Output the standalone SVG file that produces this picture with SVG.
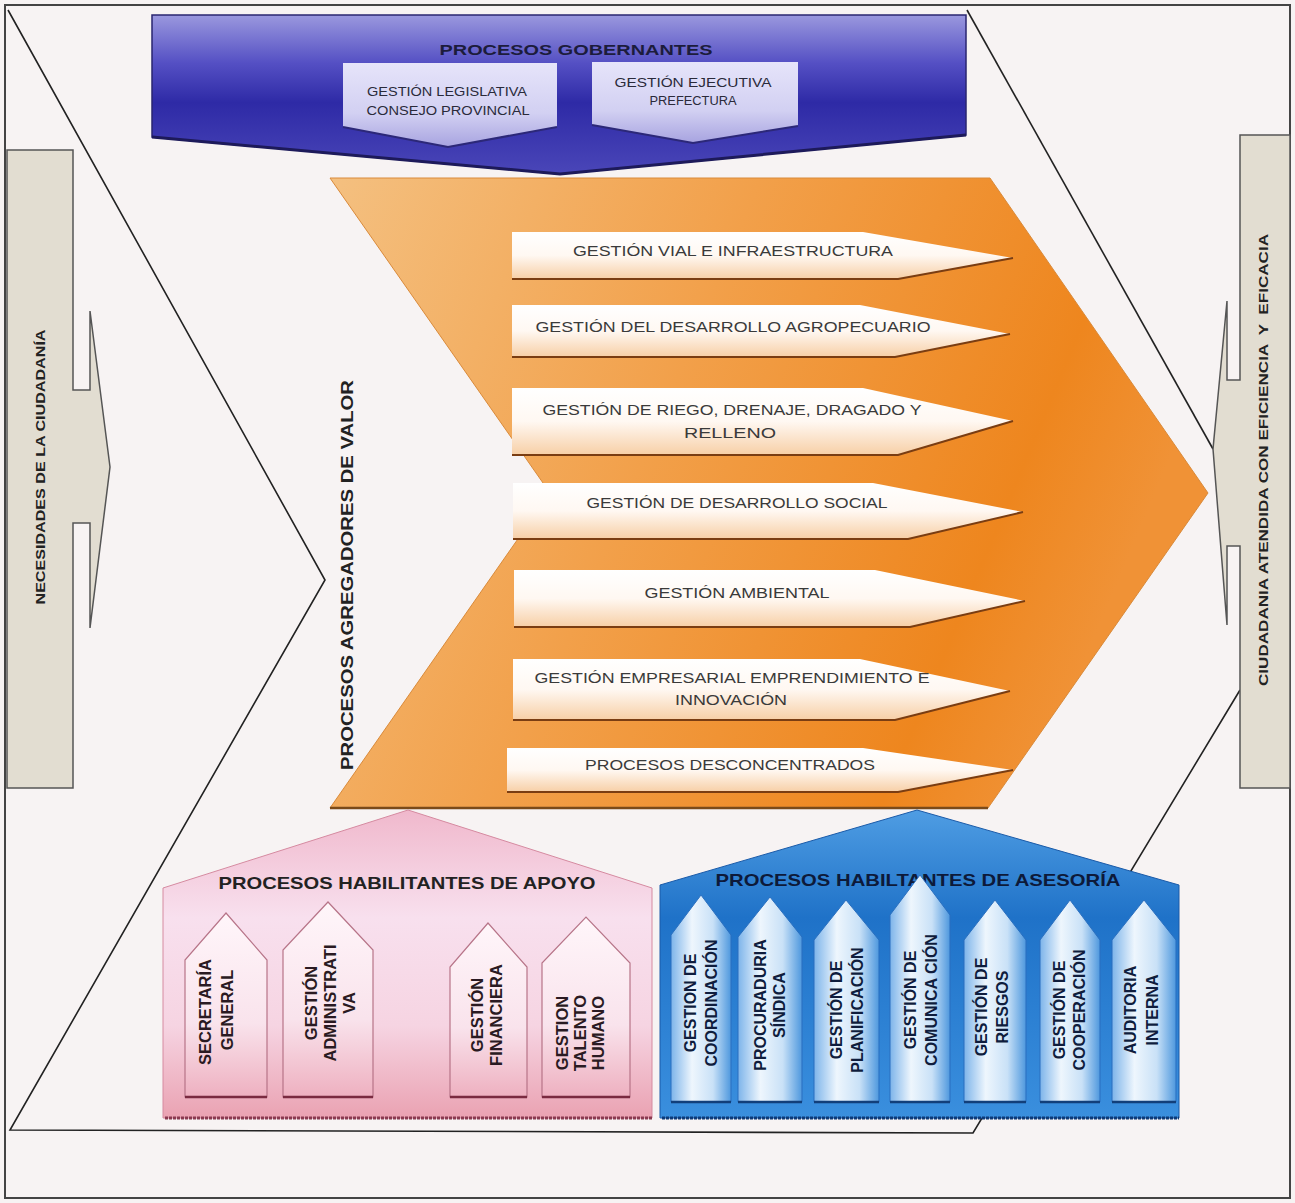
<svg xmlns="http://www.w3.org/2000/svg" width="1295" height="1203" viewBox="0 0 1295 1203">
<defs>
<style>
.t{font-family:"Liberation Sans",Arial,sans-serif;}
.b{font-weight:bold;}
.bar{fill:url(#gBar);}
.barEdge{fill:none;stroke:#7a3d12;stroke-width:2;}
.bartxt{font-family:"Liberation Sans",Arial,sans-serif;font-size:15.5px;fill:#3a3a3a;text-anchor:middle;}
.ppil{fill:url(#gPinkPil);stroke:#b77488;stroke-width:1.2;}
.bpil{fill:url(#gBluePil);stroke:#2a6fbf;stroke-width:1;}
.ptxt{font-family:"Liberation Sans",Arial,sans-serif;font-size:16.5px;font-weight:bold;fill:#2a1a22;text-anchor:middle;}
.btxt{font-family:"Liberation Sans",Arial,sans-serif;font-size:16px;font-weight:bold;fill:#0f1d3d;text-anchor:middle;}
.line{fill:none;stroke:#222;stroke-width:1.6;}
.side{fill:#e2ddd1;stroke:#555;stroke-width:1.5;}
.sidetxt{font-family:"Liberation Sans",Arial,sans-serif;font-size:12.5px;font-weight:bold;fill:#222;text-anchor:middle;}
.shadow{fill:none;stroke-dasharray:3 1;}
</style>
<linearGradient id="gPurple" x1="0" y1="0" x2="0" y2="1">
<stop offset="0" stop-color="#9a98de"/>
<stop offset="0.3" stop-color="#5550c4"/>
<stop offset="0.55" stop-color="#2e2aa6"/>
<stop offset="1" stop-color="#4a46b8"/>
</linearGradient>
<linearGradient id="gLav" x1="0" y1="0" x2="0" y2="1">
<stop offset="0" stop-color="#e6e4fa"/>
<stop offset="0.6" stop-color="#d2d0f2"/>
<stop offset="1" stop-color="#a7a3e0"/>
</linearGradient>
<linearGradient id="gOrange" x1="0" y1="0" x2="1" y2="0.3">
<stop offset="0" stop-color="#f4c080"/>
<stop offset="0.45" stop-color="#f2a04a"/>
<stop offset="0.85" stop-color="#ee861e"/>
<stop offset="1" stop-color="#f09236"/>
</linearGradient>
<linearGradient id="gBar" x1="0" y1="0" x2="0" y2="1">
<stop offset="0" stop-color="#ffffff"/>
<stop offset="0.5" stop-color="#fff8f2"/>
<stop offset="1" stop-color="#f7cfa6"/>
</linearGradient>
<linearGradient id="gPink" x1="0" y1="0" x2="0" y2="1">
<stop offset="0" stop-color="#f0b8cc"/>
<stop offset="0.35" stop-color="#f8e0ee"/>
<stop offset="0.7" stop-color="#f6d4e2"/>
<stop offset="1" stop-color="#eaa2b2"/>
</linearGradient>
<linearGradient id="gPinkPil" x1="0" y1="0" x2="0" y2="1">
<stop offset="0" stop-color="#fff6fa"/>
<stop offset="0.6" stop-color="#f9e3ec"/>
<stop offset="1" stop-color="#eeb0c0"/>
</linearGradient>
<linearGradient id="gBlue" x1="0" y1="0" x2="0" y2="1">
<stop offset="0" stop-color="#4f9de3"/>
<stop offset="0.35" stop-color="#1f72c8"/>
<stop offset="1" stop-color="#3a8fde"/>
</linearGradient>
<linearGradient id="gBluePil" x1="0" y1="0" x2="1" y2="0">
<stop offset="0" stop-color="#7db4ea"/>
<stop offset="0.35" stop-color="#eef6fd"/>
<stop offset="0.7" stop-color="#c9e1f7"/>
<stop offset="1" stop-color="#4e98de"/>
</linearGradient>
</defs>

<rect x="0" y="0" width="1295" height="1203" fill="#f7f3f3"/>
<rect x="5" y="5" width="1285" height="1193" fill="none" stroke="#444" stroke-width="2"/>

<g id="connectors">
<polyline class="line" points="8,10 325,580 10,1130 973,1133 1240,690"/>
<polyline class="line" points="967,10 1213,449"/>
</g>

<g id="necesidades">
<path class="side" d="M7,150 H73 V390 H90 V311 L110,467 L90,628 V523 H73 V788 H7 Z"/>
<text class="sidetxt" transform="translate(40,467) rotate(-90)" dy=".36em" textLength="275" lengthAdjust="spacingAndGlyphs">NECESIDADES DE LA CIUDADANÍA</text>
</g>

<g id="ciudadania">
<path class="side" d="M1290,135 H1240 V380 H1227 V301 L1213,449 L1227,625 V546 H1240 V788 H1290 Z"/>
<text class="sidetxt" xml:space="preserve" transform="translate(1263,460) rotate(-90)" dy=".36em" textLength="452" lengthAdjust="spacingAndGlyphs">CIUDADANIA ATENDIDA CON EFICIENCIA  Y  EFICACIA</text>
</g>

<g id="gobernantes">
<path d="M152,15 H966 V135 L560,174 L152,137 Z" fill="url(#gPurple)" stroke="#2a2670" stroke-width="1.5"/>
<path d="M152,137 L560,174 L966,135" fill="none" stroke="#1d1a5a" stroke-width="3"/>
<text class="t b" x="576" y="55" font-size="15" fill="#1c1c3c" text-anchor="middle" textLength="273" lengthAdjust="spacingAndGlyphs">PROCESOS GOBERNANTES</text>
<g id="legislativa">
<path d="M343,63 H557 V127 L448,147 L343,127 Z" fill="url(#gLav)"/>
<path d="M343,127 L448,147 L557,127" fill="none" stroke="#2c2878" stroke-width="2"/>
<text class="t" x="447" y="96" font-size="12" fill="#2a2a3a" text-anchor="middle" textLength="160" lengthAdjust="spacingAndGlyphs">GESTIÓN LEGISLATIVA</text>
<text class="t" x="448" y="115" font-size="12" fill="#2a2a3a" text-anchor="middle" textLength="163" lengthAdjust="spacingAndGlyphs">CONSEJO PROVINCIAL</text>
</g>
<g id="ejecutiva">
<path d="M592,62 H798 V126 L693,143 L592,125 Z" fill="url(#gLav)"/>
<path d="M592,125 L693,143 L798,126" fill="none" stroke="#2c2878" stroke-width="2"/>
<text class="t" x="693" y="87" font-size="12" fill="#2a2a3a" text-anchor="middle" textLength="157" lengthAdjust="spacingAndGlyphs">GESTIÓN EJECUTIVA</text>
<text class="t" x="693" y="105" font-size="12" fill="#2a2a3a" text-anchor="middle" textLength="87" lengthAdjust="spacingAndGlyphs">PREFECTURA</text>
</g>
</g>

<g id="agregadores">
<path d="M330,178 H990 L1208,493 L988,808 H330 L550,493 Z" fill="url(#gOrange)" stroke="#d98a3a" stroke-width="1"/>
<line x1="330" y1="808" x2="988" y2="808" stroke="#7a4a1a" stroke-width="2.5"/>
<text class="t b" transform="translate(347,575) rotate(-90)" dy=".36em" font-size="17" fill="#222" text-anchor="middle" textLength="390" lengthAdjust="spacingAndGlyphs">PROCESOS AGREGADORES DE VALOR</text>

<g id="vial">
<path class="bar" d="M512,232 H863 L1013,258 L898,279 H512 Z"/>
<path class="barEdge" d="M512,279 H898 L1013,258"/>
<text class="bartxt" x="733" y="256" textLength="320" lengthAdjust="spacingAndGlyphs">GESTIÓN VIAL E INFRAESTRUCTURA</text>
</g>
<g id="agropecuario">
<path class="bar" d="M512,305 H860 L1010,334 L895,357 H512 Z"/>
<path class="barEdge" d="M512,357 H895 L1010,334"/>
<text class="bartxt" x="733" y="332" textLength="395" lengthAdjust="spacingAndGlyphs">GESTIÓN DEL DESARROLLO AGROPECUARIO</text>
</g>
<g id="riego">
<path class="bar" d="M512,388 H863 L1013,421 L898,455 H512 Z"/>
<path class="barEdge" d="M512,455 H898 L1013,421"/>
<text class="bartxt" x="732" y="415" textLength="379" lengthAdjust="spacingAndGlyphs">GESTIÓN DE RIEGO, DRENAJE, DRAGADO Y</text>
<text class="bartxt" x="730" y="438" textLength="92" lengthAdjust="spacingAndGlyphs">RELLENO</text>
</g>
<g id="social">
<path class="bar" d="M513,483 H873 L1023,512 L908,539 H513 Z"/>
<path class="barEdge" d="M513,539 H908 L1023,512"/>
<text class="bartxt" x="737" y="508" textLength="301" lengthAdjust="spacingAndGlyphs">GESTIÓN DE DESARROLLO SOCIAL</text>
</g>
<g id="ambiental">
<path class="bar" d="M514,570 H875 L1025,601 L910,627 H514 Z"/>
<path class="barEdge" d="M514,627 H910 L1025,601"/>
<text class="bartxt" x="737" y="598" textLength="185" lengthAdjust="spacingAndGlyphs">GESTIÓN AMBIENTAL</text>
</g>
<g id="empresarial">
<path class="bar" d="M513,659 H860 L1010,691 L895,720 H513 Z"/>
<path class="barEdge" d="M513,720 H895 L1010,691"/>
<text class="bartxt" x="732" y="683" textLength="395" lengthAdjust="spacingAndGlyphs">GESTIÓN EMPRESARIAL EMPRENDIMIENTO E</text>
<text class="bartxt" x="731" y="705" textLength="112" lengthAdjust="spacingAndGlyphs">INNOVACIÓN</text>
</g>
<g id="desconcentrados">
<path class="bar" d="M507,748 H863 L1013,770 L898,792 H507 Z"/>
<path class="barEdge" d="M507,792 H898 L1013,770"/>
<text class="bartxt" x="730" y="770" textLength="290" lengthAdjust="spacingAndGlyphs">PROCESOS DESCONCENTRADOS</text>
</g>
</g>

<g id="apoyo">
<path d="M163,888 L408,810 L652,888 V1118 H163 Z" fill="url(#gPink)" stroke="#d58aa0" stroke-width="1"/>
<line class="shadow" x1="165" y1="1118" x2="652" y2="1118" stroke="#8a3a50" stroke-width="3"/>
<text class="t b" x="407" y="889" font-size="17" fill="#222" text-anchor="middle" textLength="377" lengthAdjust="spacingAndGlyphs">PROCESOS HABILITANTES DE APOYO</text>
<g id="secretaria">
<path class="ppil" d="M185,1097 V960 L226,913 L267,960 V1097 Z"/>
<line x1="185" y1="1097" x2="267" y2="1097" stroke="#7a2a40" stroke-width="2.5"/>
<text class="ptxt" transform="translate(205,1012) rotate(-90)" dy=".36em">SECRETARÍA</text>
<text class="ptxt" transform="translate(227,1010) rotate(-90)" dy=".36em">GENERAL</text>
</g>
<g id="administrativa">
<path class="ppil" d="M283,1097 V950 L328,902 L373,950 V1097 Z"/>
<line x1="283" y1="1097" x2="373" y2="1097" stroke="#7a2a40" stroke-width="2.5"/>
<text class="ptxt" transform="translate(311,1003) rotate(-90)" dy=".36em">GESTIÓN</text>
<text class="ptxt" transform="translate(330,1003) rotate(-90)" dy=".36em">ADMINISTRATI</text>
<text class="ptxt" transform="translate(349,1003) rotate(-90)" dy=".36em">VA</text>
</g>
<g id="financiera">
<path class="ppil" d="M450,1097 V967 L488,923 L527,967 V1097 Z"/>
<line x1="450" y1="1097" x2="527" y2="1097" stroke="#7a2a40" stroke-width="2.5"/>
<text class="ptxt" transform="translate(477,1015) rotate(-90)" dy=".36em">GESTIÓN</text>
<text class="ptxt" transform="translate(496,1015) rotate(-90)" dy=".36em">FINANCIERA</text>
</g>
<g id="talento">
<path class="ppil" d="M542,1097 V963 L586,917 L630,963 V1097 Z"/>
<line x1="542" y1="1097" x2="630" y2="1097" stroke="#7a2a40" stroke-width="2.5"/>
<text class="ptxt" transform="translate(562,1033) rotate(-90)" dy=".36em">GESTION</text>
<text class="ptxt" transform="translate(580,1033) rotate(-90)" dy=".36em">TALENTO</text>
<text class="ptxt" transform="translate(598,1033) rotate(-90)" dy=".36em">HUMANO</text>
</g>
</g>

<g id="asesoria">
<path d="M660,885 L917,810 L1179,885 V1118 H660 Z" fill="url(#gBlue)" stroke="#1a5aa8" stroke-width="1"/>
<line class="shadow" x1="662" y1="1118" x2="1179" y2="1118" stroke="#0d3a78" stroke-width="3"/>
<text class="t b" x="918" y="886" font-size="17" fill="#0d1a3a" text-anchor="middle" textLength="405" lengthAdjust="spacingAndGlyphs">PROCESOS HABILTANTES DE ASESORÍA</text>
<g id="coordinacion">
<path class="bpil" d="M671,1102 V935 L701,895 L731,935 V1102 Z"/>
<line x1="671" y1="1102" x2="731" y2="1102" stroke="#123f7a" stroke-width="2.5"/>
<text class="btxt" transform="translate(690,1003) rotate(-90)" dy=".36em">GESTION DE</text>
<text class="btxt" transform="translate(711,1003) rotate(-90)" dy=".36em">COORDINACIÓN</text>
</g>
<g id="procuraduria">
<path class="bpil" d="M738,1102 V937 L770,897 L802,937 V1102 Z"/>
<line x1="738" y1="1102" x2="802" y2="1102" stroke="#123f7a" stroke-width="2.5"/>
<text class="btxt" transform="translate(760,1005) rotate(-90)" dy=".36em">PROCURADURIA</text>
<text class="btxt" transform="translate(779,1005) rotate(-90)" dy=".36em">SÍNDICA</text>
</g>
<g id="planificacion">
<path class="bpil" d="M814,1102 V940 L846,900 L879,940 V1102 Z"/>
<line x1="814" y1="1102" x2="879" y2="1102" stroke="#123f7a" stroke-width="2.5"/>
<text class="btxt" transform="translate(836,1010) rotate(-90)" dy=".36em">GESTIÓN DE</text>
<text class="btxt" transform="translate(857,1010) rotate(-90)" dy=".36em">PLANIFICACIÓN</text>
</g>
<g id="comunicacion">
<path class="bpil" d="M890,1102 V915 L920,875 L950,915 V1102 Z"/>
<line x1="890" y1="1102" x2="950" y2="1102" stroke="#123f7a" stroke-width="2.5"/>
<text class="btxt" transform="translate(910,1000) rotate(-90)" dy=".36em">GESTIÓN DE</text>
<text class="btxt" transform="translate(931,1000) rotate(-90)" dy=".36em">COMUNICA CIÓN</text>
</g>
<g id="riesgos">
<path class="bpil" d="M964,1102 V940 L995,900 L1026,940 V1102 Z"/>
<line x1="964" y1="1102" x2="1026" y2="1102" stroke="#123f7a" stroke-width="2.5"/>
<text class="btxt" transform="translate(981,1007) rotate(-90)" dy=".36em">GESTIÓN DE</text>
<text class="btxt" transform="translate(1002,1007) rotate(-90)" dy=".36em">RIESGOS</text>
</g>
<g id="cooperacion">
<path class="bpil" d="M1040,1102 V940 L1070,900 L1100,940 V1102 Z"/>
<line x1="1040" y1="1102" x2="1100" y2="1102" stroke="#123f7a" stroke-width="2.5"/>
<text class="btxt" transform="translate(1059,1010) rotate(-90)" dy=".36em">GESTIÓN DE</text>
<text class="btxt" transform="translate(1079,1010) rotate(-90)" dy=".36em">COOPERACIÓN</text>
</g>
<g id="auditoria">
<path class="bpil" d="M1112,1102 V940 L1144,900 L1176,940 V1102 Z"/>
<line x1="1112" y1="1102" x2="1176" y2="1102" stroke="#123f7a" stroke-width="2.5"/>
<text class="btxt" transform="translate(1130,1010) rotate(-90)" dy=".36em">AUDITORIA</text>
<text class="btxt" transform="translate(1152,1010) rotate(-90)" dy=".36em">INTERNA</text>
</g>
</g>
</svg>
